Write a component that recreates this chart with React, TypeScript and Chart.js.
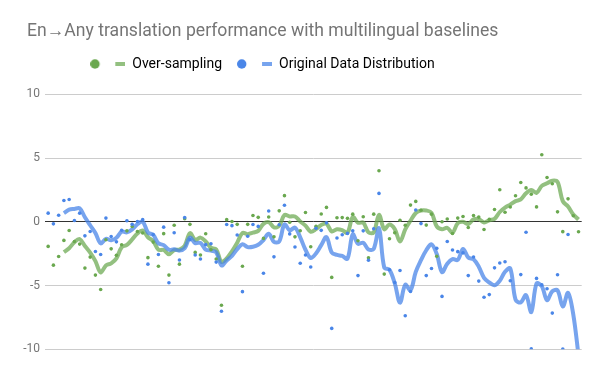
import React, { useEffect, useRef } from 'react';
import { Chart, registerables } from 'chart.js';

Chart.register(...registerables);

const TITLE = 'En→Any translation performance with multilingual baselines';
const SERIES_NAMES = ['Over-sampling', 'Original Data Distribution'];
const Y_TICKS = [-10, -5, 0, 5, 10];

// Per-language score differences (index = language position along the x axis)
const overSampling = [
  -1.93, -3.40, -2.72, -1.46, -0.68, -1.54, -1.75, -3.63, -2.77, -4.18,
  -5.31, -1.41, -2.12, -2.62, -1.80, -0.71, -0.37, -0.76, -0.88, -2.81,
  -1.59, -3.49, -0.93, -4.18, -0.27, -3.32, 0.24, -0.20, -2.40, -2.60,
  -0.94, -2.19, -2.92, -6.55, 0.17, 0.02, -0.20, -3.49, -0.20, 0.50,
  0.35, -1.30, 0.38, -1.18, 0.86, 2.05, -0.04, -1.18, -0.70, 0.73,
  -1.96, -0.36, 0.61, 1.13, -4.36, 0.32, 0.33, 0.27, 0.60, -1.49,
  0.40, -2.82, 0.60, 4.00, -4.10, -1.33, -0.86, 0.12, -0.27, 1.31,
  1.60, 0.91, -0.26, 0.60, -2.70, 0.00, 0.22, -0.92, 0.29, 0.42,
  -0.45, 0.50, 0.37, -0.60, 0.20, 0.96, 2.52, 0.75, 1.16, 2.04,
  3.08, 2.66, 2.17, 1.17, 5.26, 3.48, 2.99, 0.78, -0.77, 1.80,
  0.47, -0.78,
];

const originalDistribution = [
  0.68, -0.16, 0.52, 1.67, 1.75, 0.10, 0.68, -1.10, -0.76, -2.33,
  -2.56, 0.29, -1.15, -1.57, -0.66, 0.08, -0.20, 0.02, 0.17, -3.32,
  -1.00, -2.57, -0.42, -4.78, -0.86, -2.99, 0.33, -1.40, -2.60, -2.92,
  -1.79, -1.72, -3.16, -7.02, -0.21, -0.30, -1.03, -5.48, -1.13, -0.21,
  -0.36, -4.03, 0.85, -2.75, -0.23, 1.30, -0.95, -1.97, -3.25, -2.60,
  -3.54, -0.51, -0.67, -0.08, -8.36, -1.27, -1.02, -0.91, -0.71, -4.22,
  -0.71, -3.02, -0.54, 2.23, -13.0, -3.76, -4.76, -3.82, -7.37, -5.47,
  0.93, -0.14, -4.22, -3.66, -2.08, -5.85, -1.54, -2.21, -2.34, -2.44,
  -4.22, -2.76, -4.65, -5.92, -5.71, -3.61, -3.23, -3.13, -4.62, -13.4,
  -4.14, -0.82, -9.97, -4.44, -4.95, -5.25, -7.16, -4.15, -9.98, -1.00,
  -14.0, -17.0,
];

// Trend lines as drawn in the picture (starting at the 4th position)
const overSamplingTrend = [
  null, null, null,
  -2.38, -2.07, -1.60, -1.36, -1.90, -2.42, -3.08, -3.97, -3.42, -3.26,
  -2.87, -1.99, -1.81, -1.38, -0.91, -0.68, -1.21, -1.51, -2.19, -2.21,
  -2.55, -2.22, -2.18, -1.88, -0.89, -1.42, -1.24, -1.54, -2.03, -2.16,
  -3.15, -2.87, -2.32, -1.64, -0.88, -0.97, -0.85, -0.71, -0.16, -0.02,
  -0.44, -0.31, 0.53, 0.42, 0.42, 0.03, -0.30, -0.78, -0.57, -0.25,
  -0.15, -0.75, -0.58, -0.65, -0.86, 0.38, -0.07, -0.06, -0.83, -0.83,
  0.55, -0.58, -0.21, -0.57, -1.54, -0.59, 0.08, 0.69, 0.89, 0.89,
  0.71, -0.36, -0.59, -0.47, -0.85, -0.10, 0.00, -0.17, 0.19, 0.21,
  -0.05, 0.12, 0.23, 0.77, 1.11, 1.35, 1.62, 1.76, 2.24, 2.49,
  2.27, 2.82, 3.02, 3.23, 3.13, 1.62, 1.20, 0.57, 0.18,
];

const originalTrend = [
  null, null, null,
  0.68, 0.95, 1.01, 1.05, 0.36, -0.27, -0.88, -1.69, -1.34, -1.44,
  -1.25, -0.77, -0.83, -0.59, -0.19, 0.02, -0.83, -1.03, -1.68, -1.83,
  -2.19, -2.16, -2.26, -2.08, -1.23, -1.67, -1.65, -2.18, -2.26, -2.40,
  -3.42, -3.03, -2.67, -2.14, -1.76, -1.99, -1.96, -1.80, -1.43, -0.94,
  -1.57, -1.54, -0.21, -0.66, -0.46, -1.22, -2.19, -2.84, -2.48, -1.83,
  -1.20, -2.41, -2.60, -2.68, -2.89, -0.98, -1.72, -1.64, -2.17, -2.12,
  -0.51, -3.58, -3.77, -4.82, -6.34, -4.93, -5.36, -3.93, -3.01, -2.23,
  -1.77, -2.53, -3.95, -3.28, -2.92, -2.99, -2.13, -2.80, -2.94, -3.52,
  -4.39, -4.76, -4.97, -4.62, -3.92, -3.65, -6.10, -6.32, -5.75, -7.08,
  -4.84, -5.05, -6.15, -5.45, -5.38, -6.64, -5.57, -7.28, -10.5,
];

const GREEN = '#6aa84f';
const GREEN_LINE = 'rgba(106,168,79,0.72)';
const BLUE = '#4a86e8';
const BLUE_LINE = 'rgba(74,134,232,0.75)';
const FONT = 'Roboto, sans-serif';

const toPoints = (arr: (number | null)[]) => arr.map((v, i) => ({ x: i, y: v }));

function swatch(dot: string, line: string): HTMLCanvasElement {
  const c = document.createElement('canvas');
  c.width = 35;
  c.height = 10;
  const g = c.getContext('2d')!;
  g.fillStyle = dot;
  g.beginPath();
  g.arc(4.7, 5, 4.7, 0, Math.PI * 2);
  g.fill();
  g.fillStyle = line;
  g.fillRect(25, 3, 10, 4);
  return c;
}

const TITLE_START_X = 27;
const LEGEND_START_X = 90.3;
const LEGEND_CENTER_Y = 64;

const headerPlacement = {
  id: 'headerPlacement',
  afterLayout(chart: any) {
    const t = chart.titleBlock;
    if (t) {
      const w = t.right - t.left;
      t.left = TITLE_START_X;
      t.right = TITLE_START_X + w;
    }
    const l = chart.legend;
    if (l) {
      const p = l.options.labels.padding;
      const fs = l.options.labels.font.size;
      const w = l.right - l.left;
      l.left = LEGEND_START_X - p;
      l.right = l.left + w;
      const dy = LEGEND_CENTER_Y - (l.top + p + fs / 2);
      l.top += dy;
      l.bottom += dy;
    }
  },
};

export default function App() {
  const ref = useRef<HTMLCanvasElement | null>(null);

  useEffect(() => {
    if (!ref.current) return;
    const greenSwatch = swatch(GREEN, GREEN_LINE);
    const blueSwatch = swatch(BLUE, BLUE_LINE);
    const chart = new Chart(ref.current, {
      type: 'scatter',
      data: {
        datasets: [
          {
            label: SERIES_NAMES[0] + ' trend',
            data: toPoints(overSamplingTrend),
            showLine: true,
            borderColor: GREEN_LINE,
            borderWidth: 4,
            pointRadius: 0,
            tension: 0.35,
            spanGaps: false,
            order: 4,
          },
          {
            label: SERIES_NAMES[1] + ' trend',
            data: toPoints(originalTrend),
            showLine: true,
            borderColor: BLUE_LINE,
            borderWidth: 4,
            pointRadius: 0,
            tension: 0.35,
            spanGaps: false,
            order: 3,
          },
          {
            label: SERIES_NAMES[0],
            data: toPoints(overSampling),
            backgroundColor: GREEN,
            borderWidth: 0,
            pointRadius: 1.8,
            order: 2,
          },
          {
            label: SERIES_NAMES[1],
            data: toPoints(originalDistribution),
            backgroundColor: BLUE,
            borderWidth: 0,
            pointRadius: 1.8,
            order: 1,
          },
        ],
      },
      options: {
        responsive: false,
        animation: false,
        devicePixelRatio: 1,
        layout: { padding: { left: 0, right: 18.3, top: 0, bottom: 26.7 } },
        plugins: {
          title: {
            display: true,
            align: 'start',
            text: TITLE,
            color: '#757575',
            font: { family: FONT, size: 17.6, weight: 'normal' },
            padding: { top: 21.1, bottom: 13.1 },
          },
          legend: {
            display: true,
            align: 'start',
            labels: {
              usePointStyle: true,
              pointStyleWidth: 35,
              padding: 15,
              color: '#616161',
              font: { family: FONT, size: 14 },
              generateLabels: () => [
                { text: SERIES_NAMES[0], pointStyle: greenSwatch, fillStyle: GREEN, strokeStyle: GREEN, lineWidth: 0, hidden: false, datasetIndex: 2 },
                { text: SERIES_NAMES[1], pointStyle: blueSwatch, fillStyle: BLUE, strokeStyle: BLUE, lineWidth: 0, hidden: false, datasetIndex: 3 },
              ] as any,
            },
          },
          tooltip: { enabled: false },
        },
        scales: {
          x: {
            type: 'linear',
            display: false,
            min: -0.6,
            max: 101.6,
          },
          y: {
            min: Y_TICKS[0],
            max: Y_TICKS[Y_TICKS.length - 1],
            afterFit: (scale: any) => {
              scale.width = 45;
            },
            afterBuildTicks: (scale: any) => {
              scale.ticks = Y_TICKS.map((v) => ({ value: v }));
            },
            ticks: {
              color: '#757575',
              font: { family: FONT, size: 12 },
              padding: 5,
              callback: (v: any) => String(v),
            },
            border: { display: false },
            grid: {
              drawTicks: false,
              lineWidth: 1,
              color: (ctx: any) => (ctx.tick && ctx.tick.value === 0 ? '#333333' : '#cccccc'),
            },
          },
        },
      },
      plugins: [headerPlacement],
    } as any);
    return () => chart.destroy();
  }, []);

  return (
    <div style={{ position: 'fixed', left: 0, top: 0, width: 600, height: 376, background: '#ffffff' }}>
      <canvas ref={ref} width={600} height={376} style={{ display: 'block', width: 600, height: 376 }} />
    </div>
  );
}
